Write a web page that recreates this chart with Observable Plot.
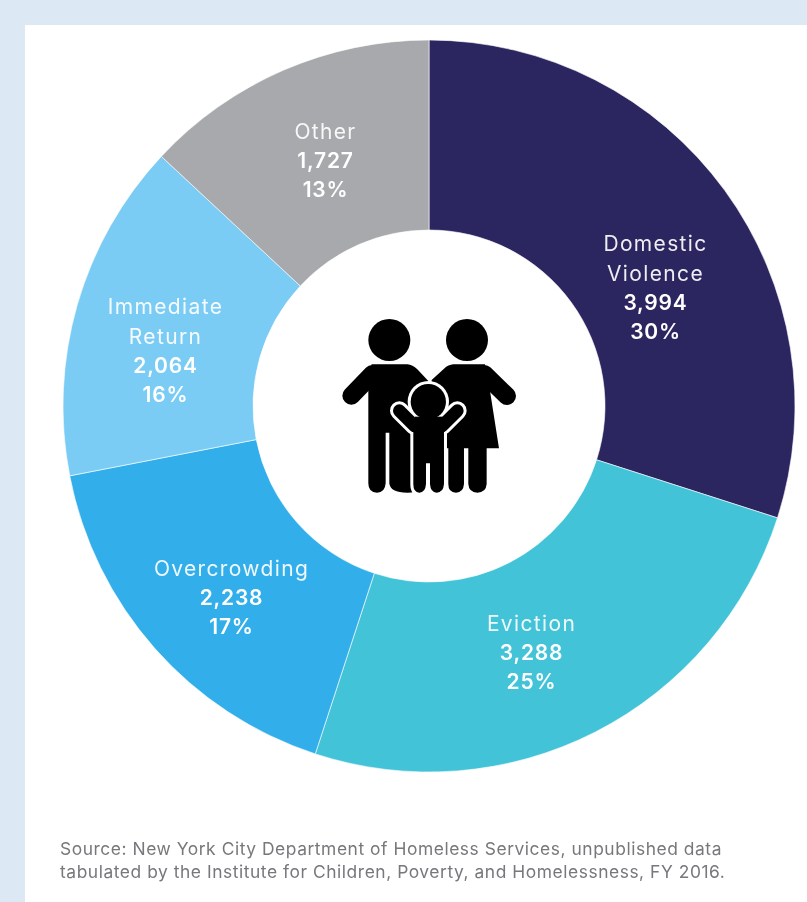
<!DOCTYPE html>
<html>
<head>
<meta charset="utf-8">
<script src="https://cdn.jsdelivr.net/npm/d3@7"></script>
<script src="https://cdn.jsdelivr.net/npm/@observablehq/plot@0.6"></script>
<style>
html,body{margin:0;padding:0;width:807px;height:902px;overflow:hidden;background:#dce8f4;font-family:Inter,sans-serif}
#panel{position:absolute;left:25px;top:25px;width:782px;height:877px;background:#fff}
#chart{position:absolute;left:0;top:0}
#caption{position:absolute;left:35px;top:813px;font-size:17.4px;letter-spacing:.55px;line-height:22.6px;color:#77787b;white-space:nowrap;font-family:Inter,sans-serif;filter:blur(.45px)}
svg text{filter:blur(.35px)}
.name-label text{letter-spacing:1.35px}
.value-label text{letter-spacing:.8px}
</style>
</head>
<body>
<div id="panel"><div id="chart"></div>
<div id="caption">Source: New York City Department of Homeless Services, unpublished data<br>tabulated by the Institute for Children, Poverty, and Homelessness, FY 2016.</div></div>
<script>
const categories = ["Domestic Violence", "Eviction", "Overcrowding", "Immediate Return", "Other"];
const counts = [3994, 3288, 2238, 2064, 1727];
const percents = [30, 25, 17, 16, 13];
const nameLines = [["Domestic", "Violence"], ["Eviction"], ["Overcrowding"], ["Immediate", "Return"], ["Other"]];
// Sweep of each slice as drawn in the picture, in degrees
const sweeps = [107.8, 90.3, 60.9, 54, 47];
const colors = ["#2b2560", "#43c3d8", "#32aeea", "#7accf4", "#a7a9ac"];

// Layout (kept apart from the data)
const W = 782, H = 800, CX = 404, CY = 381;
const OUTER = 366, INNER = 176, LINE = 29.2;
const labelCenters = [[226, -118], [102, 246.5], [-198, 192], [-264, -55], [-104, -245]];

const slices = d3.pie().sort(null).value(d => d)(sweeps).map((a, i) => ({...a, category: categories[i]}));

const labelRows = categories.flatMap((c, i) => {
  const lines = [
    ...nameLines[i].map(t => ({t, weight: 400})),
    {t: d3.format(",")(counts[i]), weight: 600},
    {t: percents[i] + "%", weight: 600}
  ];
  return lines.map((l, k) => ({
    ...l, category: c,
    x: labelCenters[i][0],
    y: labelCenters[i][1] + (k - (lines.length - 1) / 2) * LINE
  }));
});

function donut(index, {x, y, color}) {
  const g = d3.create("svg:g");
  const arc = d3.arc();
  const k = x(1) - x(0);
  g.selectAll("path").data(slices).join("path")
    .attr("transform", `translate(${x(0)},${y(0)})`)
    .attr("d", d => arc({innerRadius: INNER * k, outerRadius: OUTER * k, startAngle: d.startAngle, endAngle: d.endAngle}))
    .attr("fill", d => color(d.category))
    .attr("stroke", "#fff").attr("stroke-opacity", 0.6).attr("stroke-width", 1);
  return g.node();
}

// Family pictogram, traced in a 220x210 box
function family(index, {x, y}) {
  const g = d3.create("svg:g").attr("transform", `translate(${x(-109)},${y(-106)}) scale(0.3333)`);
  const black = "#000";
  const limb = (d, w, col) => g.append("path").attr("d", d).attr("fill", "none").attr("stroke", col)
    .attr("stroke-width", w).attr("stroke-linecap", "round").attr("stroke-linejoin", "round");
  g.append("circle").attr("cx", 208).attr("cy", 120).attr("r", 63).attr("fill", black);
  g.append("circle").attr("cx", 441).attr("cy", 120).attr("r", 63).attr("fill", black);
  // father
  limb("M94 287 L157 222", 54, black);
  g.append("path").attr("fill", black).attr("d",
    "M155 193 H262 Q278 195 292 208 L330 248 L300 560 Q290 578 262 578 Q210 578 208 550 V398 H197 V550 Q195 578 171 578 Q145 578 145 550 V230 Z");
  // mother
  limb("M561 288 L493 222", 54, black);
  g.append("path").attr("fill", black).attr("d",
    "M335 240 L372 206 Q385 194 400 193 H495 L510 272 L537 445 H500 V552 Q498 578 472 578 Q447 578 445 552 V445 H432 V552 Q430 578 408 578 Q385 578 385 552 V445 H340 Z");
  // child: white halo first, then black on top
  const childBody = "M280 392 H372 V552 Q370 578 350 578 Q332 578 330 552 V490 H318 V552 Q316 578 298 578 Q280 578 280 552 Z";
  const layer = (col, extra) => {
    g.append("circle").attr("cx", 325).attr("cy", 305).attr("r", 53 + extra / 2).attr("fill", col);
    limb("M238 332 L284 378", 38 + extra, col);
    limb("M412 332 L366 378", 38 + extra, col);
    g.append("path").attr("d", childBody).attr("fill", col).attr("stroke", col)
      .attr("stroke-width", extra).attr("stroke-linejoin", "round");
  };
  layer("#fff", 18);
  layer(black, 0);
  g.append("rect").attr("x", 284).attr("y", 350).attr("width", 84).attr("height", 50).attr("fill", black);
  return g.node();
}

const plot = Plot.plot({
  width: W, height: H,
  margin: 0,
  style: {background: "transparent", fontFamily: "Inter, sans-serif", overflow: "visible"},
  x: {domain: [-CX, W - CX], range: [0, W], axis: null},
  y: {domain: [-CY, H - CY], range: [0, H], axis: null},
  color: {domain: categories, range: colors},
  marks: [
    donut,
    family,
    Plot.text(labelRows.filter(d => d.weight === 400), {
      x: "x", y: "y", text: "t", fill: "#fff", fillOpacity: 0.92, fontSize: 21, fontWeight: 400, className: "name-label"
    }),
    Plot.text(labelRows.filter(d => d.weight === 600), {
      x: "x", y: "y", text: "t", fill: "#fff", fontSize: 21, fontWeight: 600, className: "value-label"
    })
  ]
});
document.getElementById("chart").appendChild(plot);
</script>
</body>
</html>
